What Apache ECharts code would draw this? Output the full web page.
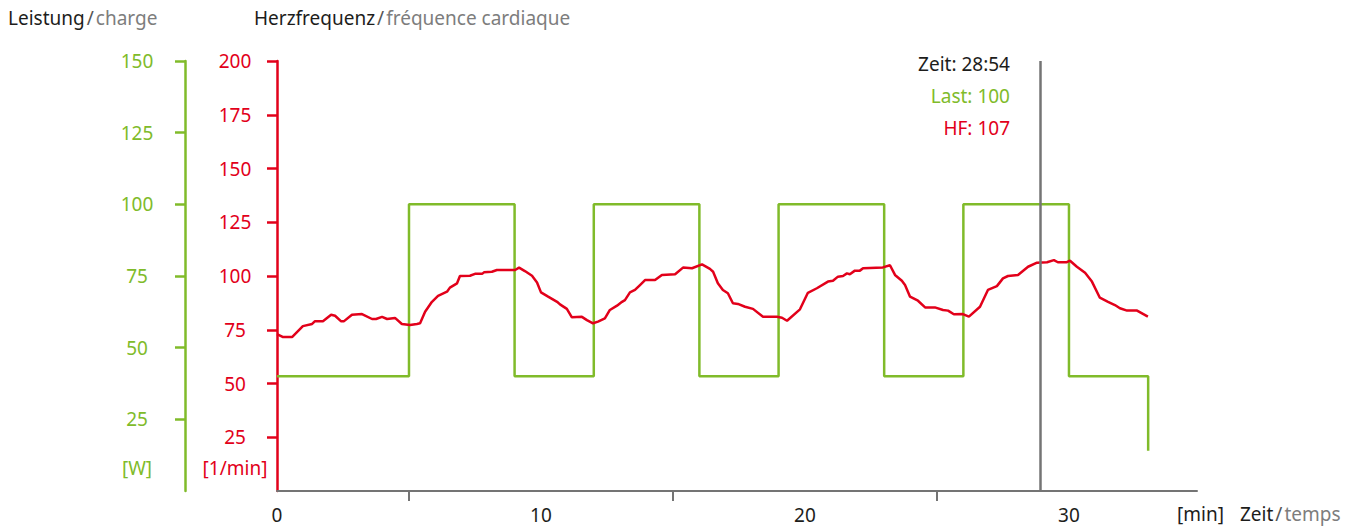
<!DOCTYPE html>
<html>
<head>
<meta charset="utf-8">
<script src="https://cdn.jsdelivr.net/npm/echarts@6.0.0/dist/echarts.min.js"></script>
<style>
html,body{margin:0;padding:0;background:#fff;}
#c{width:1354px;height:526px;}
</style>
</head>
<body>
<div id="c"></div>
<script>
// ---- data ----
const timeMin = [0, 0.23, 0.57, 0.98, 1.33, 1.44, 1.74, 2.05, 2.2, 2.42,
  2.54, 2.84, 3.22, 3.6, 3.75, 3.98, 4.17, 4.47, 4.73, 5.04,
  5.3, 5.42, 5.61, 5.87, 6.1, 6.44, 6.55, 6.82, 6.93, 7.31,
  7.5, 7.77, 7.84, 8.14, 8.33, 9.02, 9.17, 9.39, 9.66, 9.85,
  10.0, 10.27, 10.61, 10.72, 10.98, 11.17, 11.55, 11.74, 11.97, 12.16,
  12.42, 12.61, 12.88, 13.07, 13.18, 13.37, 13.56, 13.75, 13.94, 14.32,
  14.58, 15.08, 15.38, 15.72, 16.1, 16.4, 16.52, 16.7, 16.89, 17.08,
  17.27, 17.46, 17.73, 18.03, 18.41, 18.94, 19.13, 19.32, 19.81, 20.11,
  20.45, 20.87, 21.06, 21.25, 21.44, 21.59, 21.7, 21.89, 22.08, 22.2,
  22.95, 23.22, 23.41, 23.67, 23.79, 23.98, 24.28, 24.55, 24.92, 25.23,
  25.42, 25.64, 25.98, 26.21, 26.63, 26.93, 27.27, 27.5, 27.69, 28.07,
  28.45, 28.79, 29.17, 29.43, 29.58, 29.92, 30.04, 30.3, 30.61, 30.87,
  31.17, 31.48, 31.74, 31.93, 32.2, 32.58, 32.99];
const heartRate = [73, 71.6, 71.6, 76.7, 77.7, 79, 79, 82, 81.5, 79,
  79, 82, 82.3, 80, 80, 81, 80, 80.5, 77.7, 77.2,
  77.7, 78, 83.4, 88, 90.8, 92.7, 94.6, 96.6, 100, 100.1,
  101, 101, 101.7, 102, 102.8, 102.8, 103.9, 102.3, 100.1, 97,
  92.4, 90.4, 88, 86.8, 84.7, 80.8, 81, 79.5, 78, 78.8,
  80.3, 84.2, 86.2, 88, 88.8, 92.4, 93.5, 95.8, 98.1, 98.1,
  100.5, 100.8, 103.9, 103.6, 105.4, 103.3, 102, 96.6, 93.5, 92,
  87.3, 87, 85.7, 84.7, 81, 81, 80.6, 79.2, 84.5, 92.2,
  94.3, 97.4, 97.8, 99.7, 100, 101.2, 100.8, 102.5, 102.5, 103.6,
  104, 105, 100.5, 97.8, 95.8, 90.4, 88.5, 85.4, 85.4, 84.2,
  83.9, 82.2, 82.3, 81.1, 85.7, 93.5, 95.3, 98.9, 100, 100.5,
  104.3, 106.2, 106.4, 107.4, 106.4, 106.4, 107.1, 104.3, 101.5, 97.4,
  89.9, 88, 86.5, 85, 83.9, 83.9, 81.1];
const loadTime = [0, 5, 9, 12, 16, 19, 23, 26, 30, 33];
const loadWatt = [40, 100, 40, 100, 40, 100, 40, 100, 40, 14];
const hfTicks = [25, 50, 75, 100, 125, 150, 175, 200];
const loadTicks = [25, 50, 75, 100, 125, 150];
const timeLabels = [0, 10, 20, 30];
const timeTicks = [5, 15, 25];
const markerTime = 28.9;
const markerTimeText = '28:54';
const markerLoad = 100;
const markerHF = 107;

// ---- styles ----
const RED = '#e2001a', GREEN = '#80bb2a', GRAY = '#747474', BLACK = '#1d1d1b', TGRAY = '#7d7d7d';
const FF = '"Noto Sans", sans-serif';
const FS = 19;

const chart = echarts.init(document.getElementById('c'), null, {renderer: 'svg'});

function txt(x, y, text, fill, align) {
  return {type: 'text', x: x, y: y, silent: true,
    style: {text: text, fill: fill, fontSize: FS, fontFamily: FF, lineHeight: FS,
      align: align || 'left', verticalAlign: 'middle'}};
}
function richTitle(x, y, a, b) {
  return {type: 'text', x: x, y: y, silent: true,
    style: {text: '{a|' + a + '}{s|/}{b|' + b + '}', align: 'left', verticalAlign: 'middle',
      fontSize: FS, fontFamily: FF, lineHeight: FS,
      rich: {
        a: {fill: BLACK, fontSize: FS, fontFamily: FF, lineHeight: FS},
        s: {fill: '#555555', fontSize: FS, fontFamily: FF, lineHeight: FS, padding: [0, 2]},
        b: {fill: TGRAY, fontSize: FS, fontFamily: FF, lineHeight: FS}
      }}};
}

const option = {
  animation: false,
  backgroundColor: '#ffffff',
  grid: {left: 277, top: 61, width: 920, height: 430, containLabel: false, outerBoundsMode: 'none'},
  xAxis: {
    type: 'value', min: 0, max: 34.85,
    axisLine: {show: true, onZero: false, lineStyle: {color: GRAY, width: 2}},
    axisTick: {show: true, customValues: timeTicks, length: 10, lineStyle: {color: GRAY, width: 2}},
    axisLabel: {customValues: timeLabels, color: BLACK, fontSize: FS, fontFamily: FF, margin: 14},
    splitLine: {show: false}
  },
  yAxis: [
    {
      type: 'value', min: 0, max: 200, position: 'left',
      axisLine: {show: true, onZero: false, lineStyle: {color: RED, width: 2.5}},
      axisTick: {show: true, customValues: hfTicks, length: 10, lineStyle: {color: RED, width: 2.5}},
      axisLabel: {customValues: hfTicks, color: RED, fontSize: FS, fontFamily: FF, align: 'center', margin: 42},
      splitLine: {show: false}
    },
    {
      type: 'value', min: 0, max: 150, position: 'left', offset: 92,
      axisLine: {show: true, onZero: false, lineStyle: {color: GREEN, width: 2.5}},
      axisTick: {show: true, customValues: loadTicks, length: 10, lineStyle: {color: GREEN, width: 2.5}},
      axisLabel: {customValues: loadTicks, color: GREEN, fontSize: FS, fontFamily: FF, align: 'center', margin: 48},
      splitLine: {show: false}
    }
  ],
  series: [
    {
      name: 'Last', type: 'line', yAxisIndex: 1, step: 'end', showSymbol: false, z: 2,
      data: loadTime.map((t, i) => [t, loadWatt[i]]),
      lineStyle: {color: GREEN, width: 2.5}
    },
    {
      name: 'HF', type: 'line', yAxisIndex: 0, showSymbol: false, z: 3,
      data: timeMin.map((t, i) => [t, heartRate[i]]),
      lineStyle: {color: RED, width: 2.5},
      markLine: {
        silent: true, symbol: ['none', 'none'], label: {show: false},
        lineStyle: {color: GRAY, width: 2.5, type: 'solid'},
        data: [{xAxis: markerTime}]
      }
    }
  ],
  graphic: [
    richTitle(8, 18, 'Leistung', 'charge'),
    richTitle(254, 18, 'Herzfrequenz', 'fréquence cardiaque'),
    txt(137, 468, '[W]', GREEN, 'center'),
    txt(235, 468, '[1/min]', RED, 'center'),
    txt(1177, 514, '[min]', BLACK, 'left'),
    richTitle(1240, 514, 'Zeit', 'temps'),
    txt(1010, 64, 'Zeit: ' + markerTimeText, BLACK, 'right'),
    txt(1010, 96, 'Last: ' + markerLoad, GREEN, 'right'),
    txt(1010, 128, 'HF: ' + markerHF, RED, 'right')
  ]
};
chart.setOption(option);
</script>
</body>
</html>
